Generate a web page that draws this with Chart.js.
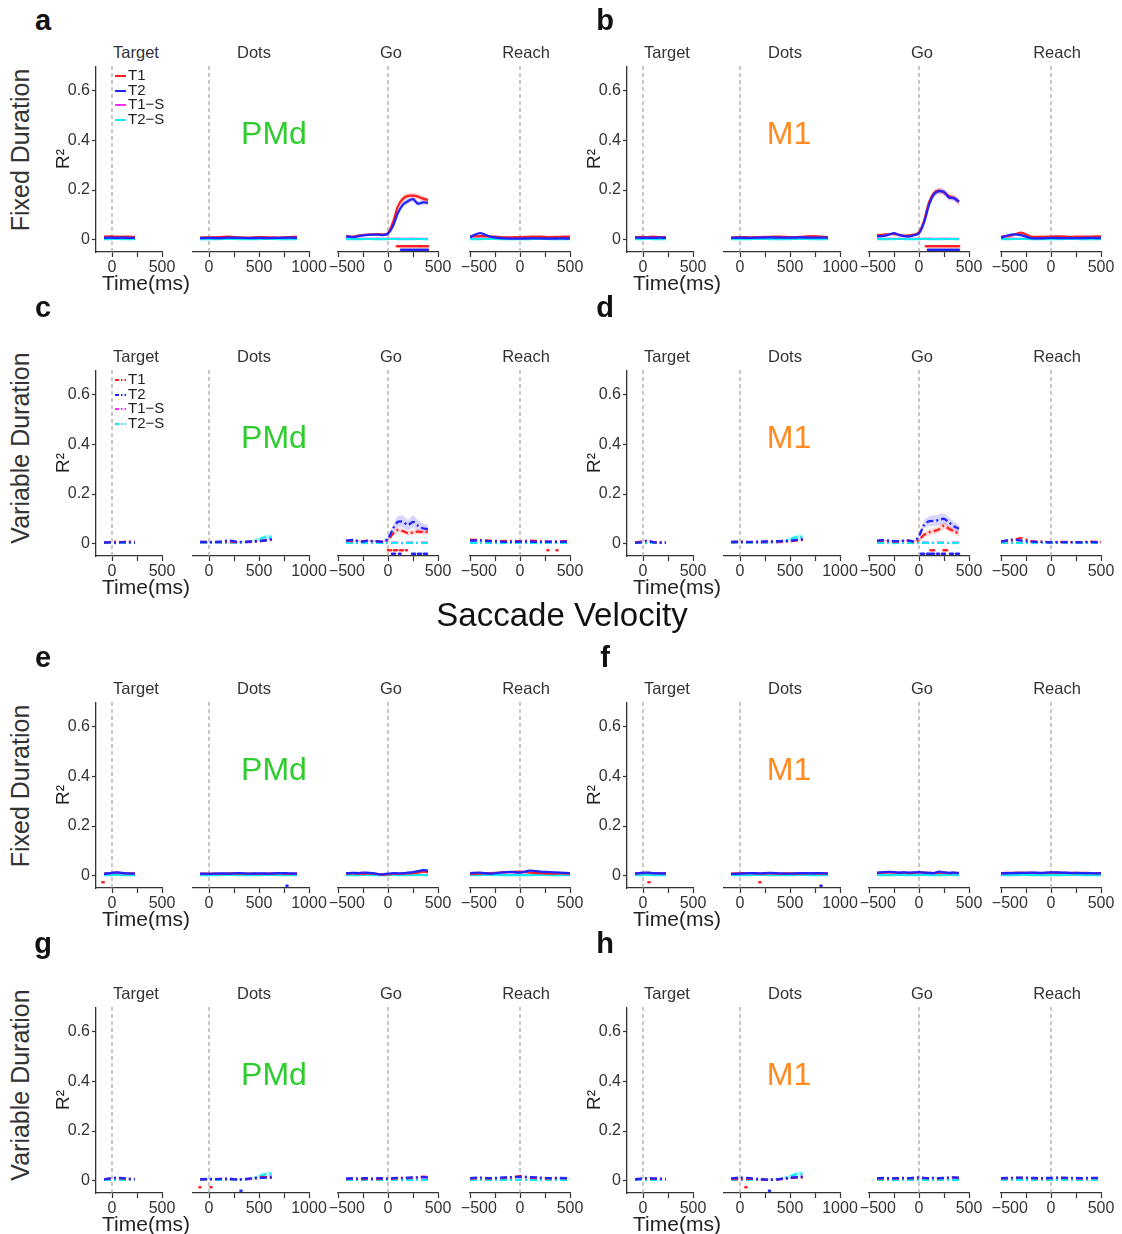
<!DOCTYPE html>
<html>
<head>
<meta charset="utf-8">
<title>R² time courses, PMd and M1</title>
<script src="https://cdn.jsdelivr.net/npm/chart.js@4.4.1/dist/chart.umd.min.js"></script>
<style>
  html, body { margin: 0; padding: 0; background: #fff; overflow: hidden; }
  #fig { position: relative; width: 1122px; height: 1234px; overflow: hidden; background: #fff;
         font-family: 'Liberation Sans', Arial, Helvetica, sans-serif; }
  #fig canvas { position: absolute; }
  .txt { position: absolute; white-space: nowrap; line-height: 1; transform: translate(-50%, -50%); }
  .rot { transform: translate(-50%, -50%) rotate(-90deg); }
  .leg { position: absolute; white-space: nowrap; font-size: 15px; line-height: 14px; color: #222; }
  .leg svg { display: inline-block; vertical-align: middle; margin-right: 2px; }
</style>
</head>
<body>
<div id="fig"></div>
<script>
// ---------- time grids (ms, aligned to each epoch event) ----------
const tTarget  = [-80, -20, 40, 100, 160, 230];
const tDotsFix = [-90, 0, 100, 200, 300, 400, 500, 600, 700, 800, 880];
const tDotsVar = [-90, 0, 100, 200, 300, 400, 450, 500, 550, 600, 630];
const tGo      = [-420, -350, -300, -250, -200, -150, -100, -50, 0, 50, 100, 150, 200, 250, 300, 350, 400];
const tReach   = [-500, -400, -300, -200, -100, 0, 100, 200, 300, 400, 500];

// ---------- axis ticks ----------
const targetTicks = [0, 250, 500];
const dotsTicks   = [0, 250, 500, 750, 1000];
const goTicks     = [-500, -250, 0, 250, 500];
const reachTicks  = [-500, -250, 0, 250, 500];
const rTicks      = [0, 0.2, 0.4, 0.6];
const eventTimes  = [0];

// ---------- shuffled controls, fixed duration ----------
const fixTargetS1 = [0.003, 0.004, 0.003, 0.003, 0.004, 0.003];
const fixTargetS2 = [0.002, 0.002, 0.003, 0.002, 0.002, 0.002];
const fixDotsS1   = [0.003, 0.003, 0.004, 0.003, 0.003, 0.004, 0.003, 0.003, 0.004, 0.003, 0.003];
const fixDotsS2   = [0.002, 0.002, 0.002, 0.003, 0.002, 0.002, 0.002, 0.003, 0.002, 0.002, 0.002];
const fixGoS1     = [0.003, 0.003, 0.004, 0.003, 0.003, 0.003, 0.004, 0.003, 0.003, 0.003, 0.004, 0.003, 0.003, 0.004, 0.003, 0.003, 0.003];
const fixGoS2     = [0.002, 0.002, 0.002, 0.002, 0.003, 0.002, 0.002, 0.002, 0.002, 0.003, 0.002, 0.002, 0.002, 0.002, 0.003, 0.002, 0.002];
const fixReachS1  = [0.003, 0.004, 0.003, 0.003, 0.003, 0.004, 0.003, 0.003, 0.004, 0.003, 0.003];
const fixReachS2  = [0.002, 0.002, 0.003, 0.002, 0.002, 0.002, 0.002, 0.003, 0.002, 0.002, 0.002];

// ---------- shuffled controls, variable duration ----------
const varTargetS1  = [0.004, 0.003, 0.004, 0.004, 0.003, 0.004];
const varTargetS2  = [0.003, 0.003, 0.002, 0.003, 0.003, 0.003];
const varDotsS1    = [0.003, 0.003, 0.004, 0.003, 0.004, 0.006, 0.008, 0.010, 0.013, 0.016, 0.017];
const varDotsS2    = [0.003, 0.004, 0.003, 0.004, 0.004, 0.007, 0.011, 0.017, 0.024, 0.027, 0.026];
const varDotsS2Err = [0.001, 0.001, 0.001, 0.001, 0.002, 0.003, 0.005, 0.008, 0.010, 0.011, 0.011];
const varGoS1      = [0.004, 0.004, 0.003, 0.004, 0.004, 0.003, 0.004, 0.004, 0.003, 0.004, 0.004, 0.003, 0.004, 0.004, 0.003, 0.004, 0.004];
const varGoS2      = [0.003, 0.003, 0.003, 0.002, 0.003, 0.003, 0.003, 0.002, 0.003, 0.003, 0.003, 0.002, 0.003, 0.003, 0.003, 0.002, 0.003];
const varReachS1   = [0.004, 0.004, 0.003, 0.004, 0.004, 0.003, 0.004, 0.004, 0.003, 0.004, 0.004];
const varReachS2   = [0.003, 0.003, 0.003, 0.002, 0.003, 0.003, 0.003, 0.002, 0.003, 0.003, 0.003];

// ---------- a: PMd, fixed duration ----------
const aTargetT1 = [0.012, 0.013, 0.012, 0.011, 0.012, 0.011];
const aTargetT2 = [0.007, 0.008, 0.007, 0.008, 0.007, 0.007];
const aDotsT1   = [0.008, 0.009, 0.010, 0.012, 0.009, 0.008, 0.010, 0.009, 0.008, 0.010, 0.011];
const aDotsT2   = [0.006, 0.007, 0.006, 0.008, 0.007, 0.006, 0.007, 0.006, 0.007, 0.008, 0.007];
const aGoT1     = [0.014, 0.012, 0.016, 0.018, 0.020, 0.021, 0.022, 0.021, 0.026, 0.070, 0.135, 0.165, 0.176, 0.177, 0.173, 0.165, 0.160];
const aGoT2     = [0.013, 0.010, 0.014, 0.017, 0.019, 0.020, 0.020, 0.018, 0.024, 0.055, 0.108, 0.142, 0.155, 0.163, 0.145, 0.150, 0.148];
const aGoT1Err  = [0.004, 0.004, 0.004, 0.004, 0.004, 0.004, 0.004, 0.004, 0.005, 0.008, 0.010, 0.012, 0.012, 0.012, 0.011, 0.011, 0.011];
const aGoT2Err  = [0.004, 0.004, 0.004, 0.004, 0.004, 0.004, 0.004, 0.004, 0.005, 0.008, 0.010, 0.011, 0.011, 0.011, 0.010, 0.010, 0.010];
const aGoSigT1  = [[90, 400]];
const aGoSigT2  = [[130, 400]];
const aReachT1  = [0.012, 0.014, 0.013, 0.010, 0.009, 0.010, 0.011, 0.012, 0.010, 0.011, 0.012];
const aReachT2  = [0.010, 0.026, 0.012, 0.006, 0.004, 0.004, 0.005, 0.005, 0.004, 0.005, 0.004];

// ---------- b: M1, fixed duration ----------
const bTargetT1 = [0.010, 0.011, 0.010, 0.012, 0.010, 0.010];
const bTargetT2 = [0.008, 0.007, 0.008, 0.007, 0.008, 0.007];
const bDotsT1   = [0.008, 0.010, 0.009, 0.010, 0.011, 0.012, 0.010, 0.011, 0.014, 0.012, 0.010];
const bDotsT2   = [0.007, 0.008, 0.007, 0.008, 0.009, 0.008, 0.008, 0.009, 0.008, 0.008, 0.008];
const bGoT1     = [0.018, 0.020, 0.022, 0.022, 0.020, 0.016, 0.017, 0.020, 0.030, 0.075, 0.150, 0.188, 0.197, 0.190, 0.175, 0.168, 0.152];
const bGoT2     = [0.013, 0.015, 0.020, 0.026, 0.018, 0.014, 0.013, 0.018, 0.025, 0.068, 0.140, 0.183, 0.195, 0.192, 0.170, 0.167, 0.153];
const bGoT1Err  = [0.004, 0.004, 0.004, 0.004, 0.004, 0.004, 0.004, 0.004, 0.005, 0.009, 0.012, 0.013, 0.013, 0.013, 0.013, 0.013, 0.014];
const bGoT2Err  = [0.004, 0.004, 0.004, 0.004, 0.004, 0.004, 0.004, 0.004, 0.005, 0.008, 0.011, 0.012, 0.012, 0.012, 0.011, 0.011, 0.011];
const bGoSigT1  = [[70, 400]];
const bGoSigT2  = [[90, 400]];
const bReachT1  = [0.012, 0.016, 0.028, 0.012, 0.011, 0.012, 0.013, 0.011, 0.012, 0.012, 0.013];
const bReachT2  = [0.008, 0.020, 0.018, 0.006, 0.005, 0.007, 0.006, 0.006, 0.006, 0.007, 0.006];

// ---------- c: PMd, variable duration ----------
const cTargetT1 = [0.005, 0.006, 0.008, 0.006, 0.009, 0.006];
const cTargetT2 = [0.004, 0.005, 0.004, 0.006, 0.005, 0.004];
const cDotsT1   = [0.006, 0.007, 0.006, 0.008, 0.006, 0.008, 0.009, 0.010, 0.012, 0.014, 0.016];
const cDotsT2   = [0.007, 0.006, 0.008, 0.012, 0.007, 0.008, 0.009, 0.010, 0.012, 0.015, 0.018];
const cGoT1     = [0.012, 0.010, 0.012, 0.010, 0.012, 0.010, 0.009, 0.008, 0.015, 0.040, 0.055, 0.050, 0.042, 0.045, 0.048, 0.047, 0.048];
const cGoT2     = [0.012, 0.015, 0.010, 0.008, 0.012, 0.010, 0.009, 0.008, 0.020, 0.060, 0.088, 0.088, 0.075, 0.088, 0.072, 0.062, 0.058];
const cGoT1Err  = [0.003, 0.003, 0.003, 0.003, 0.003, 0.003, 0.003, 0.003, 0.004, 0.008, 0.010, 0.010, 0.010, 0.010, 0.010, 0.010, 0.010];
const cGoT2Err  = [0.003, 0.003, 0.003, 0.003, 0.003, 0.003, 0.003, 0.003, 0.006, 0.015, 0.022, 0.025, 0.022, 0.025, 0.022, 0.020, 0.018];
const cGoSigT1  = [[0, 190]];
const cGoSigT2  = [[40, 90], [110, 125], [240, 390]];
const cReachT1  = [0.016, 0.014, 0.012, 0.010, 0.011, 0.010, 0.012, 0.010, 0.008, 0.009, 0.010];
const cReachT2  = [0.012, 0.013, 0.010, 0.008, 0.007, 0.008, 0.008, 0.007, 0.008, 0.007, 0.008];
const cReachSigT1 = [[275, 285], [365, 375]];

// ---------- d: M1, variable duration ----------
const dTargetT1 = [0.005, 0.008, 0.010, 0.006, 0.005, 0.005];
const dTargetT2 = [0.004, 0.005, 0.012, 0.006, 0.004, 0.004];
const dDotsT1   = [0.006, 0.007, 0.006, 0.007, 0.008, 0.008, 0.009, 0.010, 0.012, 0.014, 0.015];
const dDotsT2   = [0.007, 0.008, 0.007, 0.008, 0.009, 0.010, 0.011, 0.012, 0.014, 0.016, 0.017];
const dGoT1     = [0.010, 0.012, 0.010, 0.008, 0.008, 0.012, 0.012, 0.008, 0.015, 0.035, 0.045, 0.050, 0.058, 0.072, 0.060, 0.050, 0.040];
const dGoT2     = [0.012, 0.014, 0.012, 0.010, 0.010, 0.012, 0.012, 0.010, 0.030, 0.075, 0.090, 0.092, 0.095, 0.100, 0.085, 0.070, 0.060];
const dGoT1Err  = [0.003, 0.003, 0.003, 0.003, 0.003, 0.003, 0.003, 0.003, 0.005, 0.010, 0.012, 0.012, 0.013, 0.014, 0.013, 0.012, 0.011];
const dGoT2Err  = [0.003, 0.003, 0.003, 0.003, 0.003, 0.003, 0.003, 0.003, 0.007, 0.016, 0.020, 0.022, 0.022, 0.022, 0.020, 0.018, 0.016];
const dGoSigT1  = [[115, 125], [140, 150], [245, 255], [270, 280]];
const dGoSigT2  = [[20, 110], [120, 200], [230, 290], [310, 400]];
const dReachT1  = [0.010, 0.012, 0.022, 0.010, 0.008, 0.006, 0.007, 0.006, 0.006, 0.008, 0.006];
const dReachT2  = [0.008, 0.016, 0.012, 0.008, 0.007, 0.005, 0.006, 0.006, 0.005, 0.006, 0.005];

// ---------- e: PMd, fixed duration (saccade velocity) ----------
const eTargetT1 = [0.008, 0.010, 0.012, 0.010, 0.009, 0.009];
const eTargetT2 = [0.007, 0.010, 0.013, 0.011, 0.009, 0.008];
const eTargetSigT1 = [[-95, -85]];
const eDotsT1   = [0.007, 0.008, 0.007, 0.009, 0.008, 0.008, 0.007, 0.008, 0.009, 0.007, 0.008];
const eDotsT2   = [0.008, 0.007, 0.009, 0.008, 0.010, 0.008, 0.009, 0.008, 0.010, 0.009, 0.008];
const eDotsSigT2 = [[775, 785]];
const eGoT1     = [0.008, 0.009, 0.008, 0.007, 0.009, 0.008, 0.006, 0.004, 0.005, 0.008, 0.007, 0.008, 0.009, 0.010, 0.012, 0.016, 0.014];
const eGoT2     = [0.010, 0.011, 0.010, 0.012, 0.011, 0.010, 0.006, 0.005, 0.008, 0.010, 0.009, 0.010, 0.012, 0.014, 0.018, 0.022, 0.020];
const eReachT1  = [0.006, 0.008, 0.010, 0.012, 0.014, 0.016, 0.012, 0.010, 0.008, 0.009, 0.008];
const eReachT2  = [0.010, 0.012, 0.008, 0.012, 0.015, 0.012, 0.020, 0.016, 0.014, 0.012, 0.010];

// ---------- f: M1, fixed duration (saccade velocity) ----------
const fTargetT1 = [0.009, 0.010, 0.011, 0.010, 0.010, 0.009];
const fTargetT2 = [0.008, 0.011, 0.012, 0.010, 0.009, 0.009];
const fTargetSigT1 = [[55, 65]];
const fDotsT1   = [0.008, 0.009, 0.010, 0.008, 0.009, 0.008, 0.009, 0.008, 0.010, 0.008, 0.009];
const fDotsT2   = [0.007, 0.008, 0.010, 0.009, 0.011, 0.009, 0.008, 0.010, 0.009, 0.010, 0.008];
const fDotsSigT1 = [[195, 205]];
const fDotsSigT2 = [[805, 815]];
const fGoT1     = [0.010, 0.012, 0.013, 0.012, 0.011, 0.012, 0.010, 0.011, 0.013, 0.012, 0.011, 0.010, 0.011, 0.012, 0.010, 0.011, 0.010];
const fGoT2     = [0.012, 0.014, 0.015, 0.014, 0.012, 0.013, 0.012, 0.013, 0.014, 0.012, 0.011, 0.010, 0.016, 0.013, 0.011, 0.012, 0.011];
const fReachT1  = [0.010, 0.011, 0.012, 0.011, 0.010, 0.012, 0.011, 0.010, 0.011, 0.010, 0.010];
const fReachT2  = [0.009, 0.010, 0.011, 0.012, 0.011, 0.013, 0.012, 0.011, 0.010, 0.010, 0.009];

// ---------- g: PMd, variable duration (saccade velocity) ----------
const gTargetT1 = [0.006, 0.008, 0.010, 0.009, 0.007, 0.006];
const gTargetT2 = [0.005, 0.009, 0.012, 0.010, 0.008, 0.006];
const gDotsT1   = [0.006, 0.005, 0.007, 0.006, 0.006, 0.007, 0.010, 0.012, 0.014, 0.013, 0.012];
const gDotsT2   = [0.005, 0.007, 0.006, 0.008, 0.004, 0.008, 0.010, 0.011, 0.012, 0.012, 0.013];
const gDotsSigT1 = [[-95, -85], [15, 25]];
const gDotsSigT2 = [[315, 325]];
const gGoT1     = [0.006, 0.008, 0.007, 0.006, 0.008, 0.007, 0.006, 0.008, 0.007, 0.008, 0.010, 0.012, 0.010, 0.012, 0.014, 0.016, 0.015];
const gGoT2     = [0.008, 0.009, 0.008, 0.010, 0.009, 0.008, 0.010, 0.009, 0.008, 0.010, 0.011, 0.010, 0.012, 0.013, 0.012, 0.014, 0.013];
const gReachT1  = [0.008, 0.010, 0.009, 0.010, 0.012, 0.018, 0.012, 0.010, 0.009, 0.010, 0.009];
const gReachT2  = [0.010, 0.012, 0.010, 0.012, 0.014, 0.015, 0.014, 0.012, 0.010, 0.011, 0.010];

// ---------- h: M1, variable duration (saccade velocity) ----------
const hTargetT1 = [0.006, 0.007, 0.008, 0.007, 0.007, 0.006];
const hTargetT2 = [0.005, 0.008, 0.010, 0.009, 0.008, 0.006];
const hDotsT1   = [0.008, 0.006, 0.007, 0.005, 0.004, 0.006, 0.008, 0.010, 0.012, 0.013, 0.012];
const hDotsT2   = [0.009, 0.012, 0.010, 0.006, 0.003, 0.006, 0.009, 0.011, 0.013, 0.014, 0.015];
const hDotsSigT1 = [[55, 65]];
const hDotsSigT2 = [[290, 300]];
const hGoT1     = [0.008, 0.009, 0.008, 0.009, 0.008, 0.009, 0.010, 0.009, 0.011, 0.010, 0.009, 0.010, 0.009, 0.010, 0.011, 0.012, 0.011];
const hGoT2     = [0.010, 0.011, 0.010, 0.009, 0.010, 0.011, 0.010, 0.012, 0.013, 0.011, 0.010, 0.011, 0.010, 0.011, 0.012, 0.013, 0.012];
const hReachT1  = [0.009, 0.010, 0.011, 0.010, 0.009, 0.010, 0.011, 0.010, 0.009, 0.010, 0.010];
const hReachT2  = [0.010, 0.011, 0.012, 0.011, 0.010, 0.011, 0.012, 0.011, 0.010, 0.011, 0.011];

// ---------- styling and layout ----------
const FONT = "'Liberation Sans', Arial, Helvetica, sans-serif";
const RED = '#ff1f1f', BLUE = '#2323ff', MAGENTA = '#ff2bff', CYAN = '#12e8f0';
const BAND_RED = 'rgba(255,70,70,0.22)', BAND_BLUE = 'rgba(70,70,255,0.22)', BAND_CYAN = 'rgba(0,235,235,0.28)';
const AXIS = '#333';
const DASH_DOT = [7, 3, 2, 3];
const SIG_LEVEL = [-0.027, -0.041];
const PX_PER_MS = 0.1;
const Y_UNIT = 248;
const Y_MIN = -0.05, Y_MAX = 0.7;
const rowZero = [240, 544, 876, 1181];
const colShift = [0, 531];
const epochNames = ['Target', 'Dots', 'Go', 'Reach'];
const epochLeft = [96, 193, 338, 470];
const epochMin = [-160, -160, -500, -500];
const epochMax = [500, 1000, 500, 500];
const epochTitleX = [136, 254, 391, 526];
const epochTicks = [targetTicks, dotsTicks, goTicks, reachTicks];

Chart.defaults.font.family = FONT;

function epoch(t, T1, T2, S1, S2, extra) {
  return Object.assign({ t, T1, T2, S1, S2 }, extra || {});
}

const panels = [
  { letter: 'a', area: 'PMd', row: 0, col: 0, dashed: false, epochs: [
    epoch(tTarget, aTargetT1, aTargetT2, fixTargetS1, fixTargetS2),
    epoch(tDotsFix, aDotsT1, aDotsT2, fixDotsS1, fixDotsS2),
    epoch(tGo, aGoT1, aGoT2, fixGoS1, fixGoS2, { e1: aGoT1Err, e2: aGoT2Err, sig1: aGoSigT1, sig2: aGoSigT2 }),
    epoch(tReach, aReachT1, aReachT2, fixReachS1, fixReachS2) ] },
  { letter: 'b', area: 'M1', row: 0, col: 1, dashed: false, epochs: [
    epoch(tTarget, bTargetT1, bTargetT2, fixTargetS1, fixTargetS2),
    epoch(tDotsFix, bDotsT1, bDotsT2, fixDotsS1, fixDotsS2),
    epoch(tGo, bGoT1, bGoT2, fixGoS1, fixGoS2, { e1: bGoT1Err, e2: bGoT2Err, sig1: bGoSigT1, sig2: bGoSigT2 }),
    epoch(tReach, bReachT1, bReachT2, fixReachS1, fixReachS2) ] },
  { letter: 'c', area: 'PMd', row: 1, col: 0, dashed: true, epochs: [
    epoch(tTarget, cTargetT1, cTargetT2, varTargetS1, varTargetS2),
    epoch(tDotsVar, cDotsT1, cDotsT2, varDotsS1, varDotsS2, { eS2: varDotsS2Err }),
    epoch(tGo, cGoT1, cGoT2, varGoS1, varGoS2, { e1: cGoT1Err, e2: cGoT2Err, sig1: cGoSigT1, sig2: cGoSigT2 }),
    epoch(tReach, cReachT1, cReachT2, varReachS1, varReachS2, { sig1: cReachSigT1 }) ] },
  { letter: 'd', area: 'M1', row: 1, col: 1, dashed: true, epochs: [
    epoch(tTarget, dTargetT1, dTargetT2, varTargetS1, varTargetS2),
    epoch(tDotsVar, dDotsT1, dDotsT2, varDotsS1, varDotsS2, { eS2: varDotsS2Err }),
    epoch(tGo, dGoT1, dGoT2, varGoS1, varGoS2, { e1: dGoT1Err, e2: dGoT2Err, sig1: dGoSigT1, sig2: dGoSigT2 }),
    epoch(tReach, dReachT1, dReachT2, varReachS1, varReachS2) ] },
  { letter: 'e', area: 'PMd', row: 2, col: 0, dashed: false, epochs: [
    epoch(tTarget, eTargetT1, eTargetT2, fixTargetS1, fixTargetS2, { sig1: eTargetSigT1 }),
    epoch(tDotsFix, eDotsT1, eDotsT2, fixDotsS1, fixDotsS2, { sig2: eDotsSigT2 }),
    epoch(tGo, eGoT1, eGoT2, fixGoS1, fixGoS2),
    epoch(tReach, eReachT1, eReachT2, fixReachS1, fixReachS2) ] },
  { letter: 'f', area: 'M1', row: 2, col: 1, dashed: false, epochs: [
    epoch(tTarget, fTargetT1, fTargetT2, fixTargetS1, fixTargetS2, { sig1: fTargetSigT1 }),
    epoch(tDotsFix, fDotsT1, fDotsT2, fixDotsS1, fixDotsS2, { sig1: fDotsSigT1, sig2: fDotsSigT2 }),
    epoch(tGo, fGoT1, fGoT2, fixGoS1, fixGoS2),
    epoch(tReach, fReachT1, fReachT2, fixReachS1, fixReachS2) ] },
  { letter: 'g', area: 'PMd', row: 3, col: 0, dashed: true, epochs: [
    epoch(tTarget, gTargetT1, gTargetT2, varTargetS1, varTargetS2),
    epoch(tDotsVar, gDotsT1, gDotsT2, varDotsS1, varDotsS2, { eS2: varDotsS2Err, sig1: gDotsSigT1, sig2: gDotsSigT2 }),
    epoch(tGo, gGoT1, gGoT2, varGoS1, varGoS2),
    epoch(tReach, gReachT1, gReachT2, varReachS1, varReachS2) ] },
  { letter: 'h', area: 'M1', row: 3, col: 1, dashed: true, epochs: [
    epoch(tTarget, hTargetT1, hTargetT2, varTargetS1, varTargetS2),
    epoch(tDotsVar, hDotsT1, hDotsT2, varDotsS1, varDotsS2, { eS2: varDotsS2Err, sig1: hDotsSigT1, sig2: hDotsSigT2 }),
    epoch(tGo, hGoT1, hGoT2, varGoS1, varGoS2),
    epoch(tReach, hReachT1, hReachT2, varReachS1, varReachS2) ] }
];

const fig = document.getElementById('fig');

// dashed grey marker at each alignment event
const eventLinePlugin = {
  id: 'eventLine',
  beforeDatasetsDraw(chart) {
    const { ctx, chartArea, scales } = chart;
    ctx.save();
    ctx.strokeStyle = '#9c9c9c';
    ctx.lineWidth = 1.1;
    ctx.setLineDash([4, 3]);
    eventTimes.forEach(ev => {
      const px = scales.x.getPixelForValue(ev);
      ctx.beginPath();
      ctx.moveTo(px, chartArea.top);
      ctx.lineTo(px, chartArea.bottom);
      ctx.stroke();
    });
    ctx.restore();
  }
};

function pts(t, v) { return t.map((x, i) => ({ x, y: v[i] })); }

function lineDs(t, v, color, dash, order, width) {
  return { data: pts(t, v), borderColor: color, borderWidth: width, borderDash: dash,
           pointRadius: 0, tension: 0.3, fill: false, order };
}

function bandDs(t, v, e, color) {
  return [
    { data: t.map((x, i) => ({ x, y: v[i] + e[i] })), borderWidth: 0, borderColor: 'transparent',
      backgroundColor: color, pointRadius: 0, tension: 0.3, fill: '+1', order: 6 },
    { data: t.map((x, i) => ({ x, y: v[i] - e[i] })), borderWidth: 0, borderColor: 'transparent',
      pointRadius: 0, tension: 0.3, fill: false, order: 6 }
  ];
}

function sigDs(intervals, level, color, dashed) {
  const data = [];
  intervals.forEach(([s, e]) => {
    data.push({ x: s, y: level }, { x: e, y: level }, { x: e, y: null });
  });
  return { data, borderColor: color, borderWidth: 2.6, borderDash: dashed ? [3, 3] : [],
           borderCapStyle: 'round', pointRadius: 0, tension: 0, spanGaps: false, fill: false, order: 0 };
}

// negative labels sit a little right of their tick, clear of the neighbouring axis
function fmtMs(v) { return v < 0 ? '    \u2212' + Math.abs(v) : String(v); }

function buildChart(panel, k) {
  const ep = panel.epochs[k];
  const first = k === 0;
  const plotL = colShift[panel.col] + epochLeft[k];
  const plotW = (epochMax[k] - epochMin[k]) * PX_PER_MS;
  const plotT = rowZero[panel.row] - Y_MAX * Y_UNIT;
  const plotH = (Y_MAX - Y_MIN) * Y_UNIT;
  const yW = first ? 44 : 0;
  const padL = first ? 0 : 24, padR = 24, xH = 32;
  const W = Math.round(padL + yW + plotW + padR), H = Math.round(plotH + xH);

  const cv = document.createElement('canvas');
  cv.width = W; cv.height = H;
  cv.style.left = (plotL - yW - padL) + 'px';
  cv.style.top = plotT + 'px';
  cv.style.width = W + 'px';
  cv.style.height = H + 'px';
  fig.appendChild(cv);

  const dash = panel.dashed ? DASH_DOT : [];
  const ds = [];
  if (ep.e1) ds.push(...bandDs(ep.t, ep.T1, ep.e1, BAND_RED));
  if (ep.e2) ds.push(...bandDs(ep.t, ep.T2, ep.e2, BAND_BLUE));
  if (ep.eS2) ds.push(...bandDs(ep.t, ep.S2, ep.eS2, BAND_CYAN));
  ds.push(lineDs(ep.t, ep.S1, MAGENTA, dash, 5, 2.2));
  ds.push(lineDs(ep.t, ep.S2, CYAN, dash, 4, 2.2));
  ds.push(lineDs(ep.t, ep.T1, RED, dash, 3, 2.3));
  ds.push(lineDs(ep.t, ep.T2, BLUE, dash, 2, 2.3));
  if (ep.sig1) ds.push(sigDs(ep.sig1, SIG_LEVEL[0], RED, panel.dashed));
  if (ep.sig2) ds.push(sigDs(ep.sig2, SIG_LEVEL[1], BLUE, panel.dashed));

  const tickFont = { size: 16, family: FONT };
  new Chart(cv, {
    type: 'line',
    data: { datasets: ds },
    plugins: [eventLinePlugin],
    options: {
      responsive: false, animation: false, devicePixelRatio: 1, events: [],
      layout: { padding: { left: padL, right: padR, top: 0, bottom: 0 }, autoPadding: false },
      plugins: { legend: { display: false }, tooltip: { enabled: false } },
      scales: {
        x: {
          type: 'linear', min: epochMin[k], max: epochMax[k],
          afterBuildTicks: a => { a.ticks = epochTicks[k].map(v => ({ value: v })); },
          afterFit: s => { s.height = xH; s.paddingLeft = 0; s.paddingRight = 0; },
          ticks: { callback: v => (v % 500 === 0 ? fmtMs(v) : ''), font: tickFont, color: AXIS,
                   padding: 1, maxRotation: 0, autoSkip: false },
          grid: { drawOnChartArea: false, drawTicks: true, tickLength: 5, tickColor: AXIS, tickWidth: 1.2 },
          border: { display: true, color: AXIS, width: 1.3 }
        },
        y: {
          type: 'linear', min: Y_MIN, max: Y_MAX, display: first,
          afterBuildTicks: a => { a.ticks = rTicks.map(v => ({ value: v })); },
          afterFit: s => { s.width = yW; s.paddingTop = 0; s.paddingBottom = 0; },
          ticks: { callback: v => (v === 0 ? '0' : v.toFixed(1)), font: tickFont, color: AXIS, padding: 2 },
          grid: { drawOnChartArea: false, drawTicks: true, tickLength: 4, tickColor: AXIS, tickWidth: 1.2 },
          border: { display: true, color: AXIS, width: 1.3 },
          title: { display: first, text: 'R\u00B2', font: { size: 19, family: FONT }, color: '#222', padding: 0 }
        }
      }
    }
  });
}

function addText(text, x, y, css, rotated) {
  const d = document.createElement('div');
  d.className = 'txt' + (rotated ? ' rot' : '');
  d.textContent = text;
  d.style.left = x + 'px';
  d.style.top = y + 'px';
  Object.assign(d.style, css);
  fig.appendChild(d);
}

function addLegend(x, y0, dashed) {
  const names = ['T1', 'T2', 'T1\u2212S', 'T2\u2212S'];
  const colors = [RED, BLUE, MAGENTA, CYAN];
  names.forEach((n, i) => {
    const row = document.createElement('div');
    row.className = 'leg';
    row.style.left = x + 'px';
    row.style.top = (y0 + i * 14.5 - 7) + 'px';
    const dashAttr = dashed ? ' stroke-dasharray="4,2,1.5,2"' : '';
    row.innerHTML = '<svg width="11" height="6"><line x1="0" y1="3" x2="11" y2="3" stroke="' + colors[i] +
      '" stroke-width="2"' + dashAttr + '/></svg>' + n;
    fig.appendChild(row);
  });
}

const areaColor = { PMd: '#2fcc2f', M1: '#ff8a1f' };
const areaX = [274, 789];
const letterX = [43, 605];
const letterY = [20, 307, 657, 943];
const rowLabels = ['Fixed Duration', 'Variable Duration', 'Fixed Duration', 'Variable Duration'];
const rowLabelOffset = [90, 96, 90, 96];

panels.forEach(p => {
  const z = rowZero[p.row];
  const dx = colShift[p.col];
  for (let k = 0; k < 4; k++) {
    buildChart(p, k);
    addText(epochNames[k], dx + epochTitleX[k], z - 188, { fontSize: '16.5px', color: '#333' });
  }
  addText(p.letter, letterX[p.col], letterY[p.row], { fontSize: '29px', fontWeight: 'bold', color: '#111' });
  addText(p.area, areaX[p.col], z - 107, { fontSize: '32px', color: areaColor[p.area] });
  addText('Time(ms)', dx + 146, z + 42, { fontSize: '21px', color: '#222' });
  if (p.col === 0) {
    addText(rowLabels[p.row], 20, z - rowLabelOffset[p.row], { fontSize: '25px', color: '#333' }, true);
  }
  if (p.letter === 'a' || p.letter === 'c') addLegend(115, z - 165, p.dashed);
});

addText('Saccade Velocity', 562, 614, { fontSize: '33px', color: '#111' });
</script>
</body>
</html>
